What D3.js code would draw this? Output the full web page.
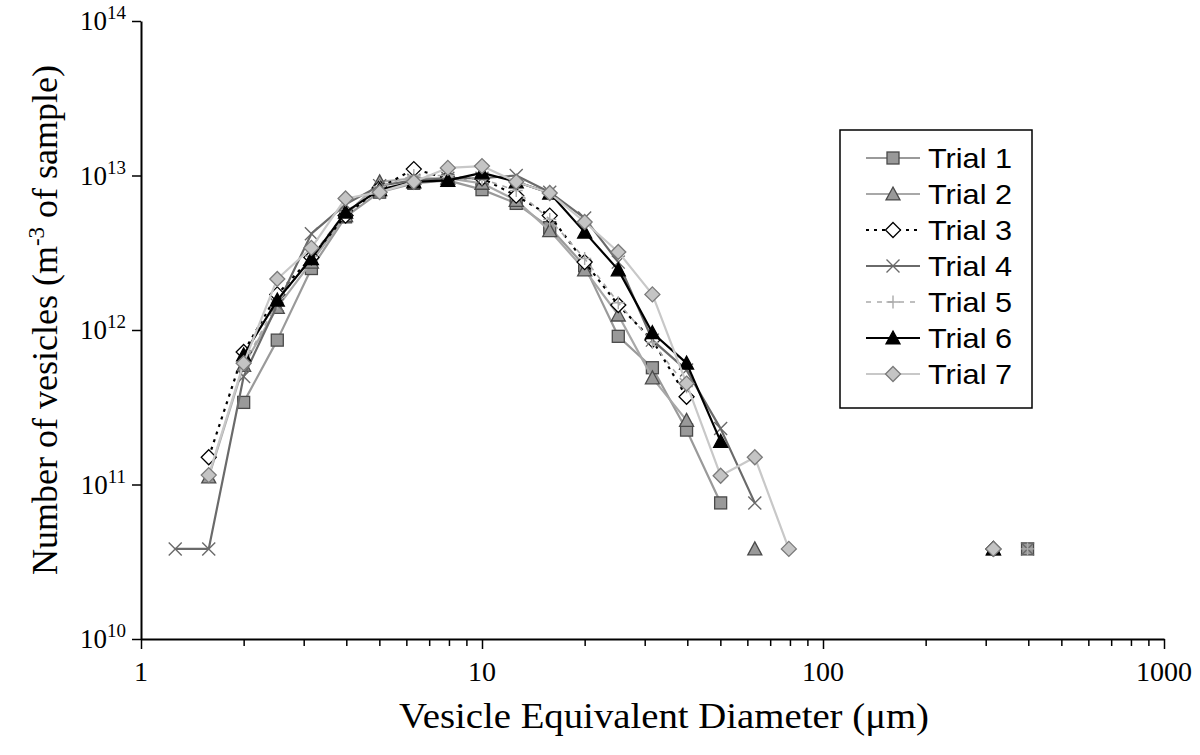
<!DOCTYPE html>
<html>
<head>
<meta charset="utf-8">
<script src="https://cdn.jsdelivr.net/npm/d3@7"></script>
<style>
  html, body { margin: 0; padding: 0; background: #fff; }
  svg { display: block; }
</style>
</head>
<body>
<svg id="chart" width="1200" height="755"></svg>
<script>
// ---- data ----
const diameters = [1.26, 1.58, 2.0, 2.51, 3.16, 3.98, 5.01, 6.31, 7.94, 10.0, 12.6, 15.8, 20.0, 25.1, 31.6, 39.8, 50.1, 63.1, 79.4];

const trial1 = [null, null, 3.4e11, 8.6e11, 2.5e12, 5.4e12, 7.8e12, 8.9e12, 9.3e12, 8.1e12, 6.6e12, 4.6e12, 2.6e12, 9.1e11, 5.7e11, 2.25e11, 7.6e10, null, null];
const trial2 = [null, 1.12e11, 5.9e11, 1.4e12, 2.75e12, 5.5e12, 9.1e12, 9.6e12, 9.6e12, 8.9e12, 6.9e12, 4.4e12, 2.45e12, 1.25e12, 4.9e11, 2.6e11, null, 3.83e10, null];
const trial3 = [null, 1.5e11, 7.2e11, 1.7e12, 2.95e12, 5.5e12, 8.3e12, 1.1e13, 9.6e12, 9.6e12, 7.4e12, 5.5e12, 2.75e12, 1.45e12, 8.6e11, 3.7e11, null, null, null];
const trial4 = [3.83e10, 3.83e10, 5.0e11, 1.45e12, 4.2e12, 6.5e12, 8.6e12, 9.3e12, 9.6e12, 9.6e12, 1.0e13, 7.8e12, 5.3e12, 2.75e12, 8.6e11, 5.5e11, 2.3e11, 7.6e10, null];
const trial5 = [null, null, 6.0e11, 1.5e12, 3.0e12, 5.8e12, 8.5e12, 1.0e13, 1.0e13, 9.5e12, 8.0e12, 5.2e12, 2.9e12, 1.5e12, 8.3e11, 4.3e11, null, null, null];
const trial6 = [null, null, 6.9e11, 1.56e12, 2.9e12, 5.8e12, 8.1e12, 9.1e12, 9.3e12, 1.04e13, 9.1e12, 7.7e12, 4.3e12, 2.45e12, 9.6e11, 6.1e11, 1.9e11, null, null];
const trial7 = [null, 1.15e11, 6.1e11, 2.14e12, 3.4e12, 7.1e12, 7.8e12, 9.1e12, 1.12e13, 1.15e13, 9.1e12, 7.7e12, 5.0e12, 3.2e12, 1.7e12, 4.5e11, 1.14e11, 1.5e11, 3.83e10];

// isolated large-vesicle counts (one vesicle per sample), per trial
const tailDiameters = [316, 398];
const tail316 = [null, 3.83e10, 3.83e10, null, null, 3.83e10, 3.83e10];
const tail398 = [3.83e10, null, null, 3.83e10, 3.83e10, null, null];

const seriesNames = ["Trial 1", "Trial 2", "Trial 3", "Trial 4", "Trial 5", "Trial 6", "Trial 7"];
const seriesValues = [trial1, trial2, trial3, trial4, trial5, trial6, trial7];

const xTickLabels = ["1", "10", "100", "1000"];
const xTickValues = [1, 10, 100, 1000];
const yTickValues = [1e10, 1e11, 1e12, 1e13, 1e14];
const yTickExponents = ["10", "11", "12", "13", "14"];

// ---- styles ----
const styles = [
  { line: "#9a9a9a", dash: null, width: 2.2, marker: "square", fill: "#999999", stroke: "#4a4a4a" },
  { line: "#a8a8a8", dash: null, width: 2.2, marker: "triangle", fill: "#999999", stroke: "#4a4a4a" },
  { line: "#000000", dash: "3,5", width: 2.2, marker: "diamond", fill: "#ffffff", stroke: "#000000" },
  { line: "#6a6a6a", dash: null, width: 2.2, marker: "x", fill: "none", stroke: "#6a6a6a" },
  { line: "#aaaaaa", dash: "5,6", width: 1.6, marker: "plus", fill: "none", stroke: "#aaaaaa" },
  { line: "#000000", dash: null, width: 2.2, marker: "triangle", fill: "#000000", stroke: "#000000" },
  { line: "#c8c8c8", dash: null, width: 2.2, marker: "diamond", fill: "#c4c4c4", stroke: "#7a7a7a" }
];

const serif = "Liberation Serif, Times New Roman, serif";
const svg = d3.select("#chart");
const x = d3.scaleLog().domain([1, 1000]).range([141, 1164]);
const y = d3.scaleLog().domain([1e10, 1e14]).range([639, 21]);

// ---- axes ----
const minorX = [];
[1, 10, 100].forEach(b => { for (let k = 2; k <= 9; k++) minorX.push(b * k); });

svg.append("g").attr("transform", "translate(0,639)")
  .call(d3.axisBottom(x).tickValues(minorX).tickSize(7).tickSizeOuter(0).tickFormat(""))
  .call(g => g.select(".domain").remove())
  .call(g => g.selectAll("line").attr("stroke", "#000").attr("stroke-width", 1.5));
svg.append("g").attr("transform", "translate(0,639)")
  .call(d3.axisBottom(x).tickValues(xTickValues).tickSize(10).tickSizeOuter(0).tickFormat(""))
  .call(g => g.select(".domain").attr("stroke", "#000").attr("stroke-width", 2))
  .call(g => g.selectAll("line").attr("stroke", "#000").attr("stroke-width", 1.5));

svg.append("g").attr("transform", "translate(141,0)")
  .call(d3.axisLeft(y).tickValues(yTickValues).tickSize(9).tickSizeOuter(0).tickFormat(""))
  .call(g => g.select(".domain").attr("stroke", "#000").attr("stroke-width", 2))
  .call(g => g.selectAll("line").attr("stroke", "#000").attr("stroke-width", 1.5));

// x tick labels
svg.append("g").selectAll("text").data(xTickValues).join("text")
  .attr("x", d => x(d)).attr("y", 681)
  .attr("text-anchor", "middle")
  .attr("font-family", serif)
  .attr("font-size", 28)
  .text((d, i) => xTickLabels[i]);

// y tick labels
const yl = svg.append("g").selectAll("text").data(yTickValues).join("text")
  .attr("x", 126).attr("y", d => y(d) + 9)
  .attr("text-anchor", "end")
  .attr("font-family", serif)
  .attr("font-size", 27);
yl.append("tspan").text("10");
yl.append("tspan").attr("dy", -11).attr("font-size", 19).text((d, i) => yTickExponents[i]);

// axis titles
svg.append("text")
  .attr("x", 664).attr("y", 728)
  .attr("text-anchor", "middle")
  .attr("font-family", serif)
  .attr("font-size", 36)
  .attr("textLength", 530)
  .attr("lengthAdjust", "spacingAndGlyphs")
  .text("Vesicle Equivalent Diameter (\u03bcm)");

const yt = svg.append("text")
  .attr("transform", "translate(57,320) rotate(-90)")
  .attr("text-anchor", "middle")
  .attr("font-family", serif)
  .attr("font-size", 36);
yt.append("tspan").text("Number of vesicles (m");
yt.append("tspan").attr("dy", -13).attr("font-size", 23).text("-3");
yt.append("tspan").attr("dy", 13).text(" of sample)");

// ---- markers ----
function drawMarker(g, type, cx, cy, st, scale) {
  const s = scale || 1;
  if (type === "square") {
    g.append("rect").attr("x", cx - 6 * s).attr("y", cy - 6 * s).attr("width", 12 * s).attr("height", 12 * s)
      .attr("fill", st.fill).attr("stroke", st.stroke).attr("stroke-width", 1.3);
  } else if (type === "triangle") {
    const h = 7 * s;
    g.append("path").attr("d", `M${cx},${cy - h}L${cx + h},${cy + h * 0.85}L${cx - h},${cy + h * 0.85}Z`)
      .attr("fill", st.fill).attr("stroke", st.stroke).attr("stroke-width", 1.3);
  } else if (type === "diamond") {
    const h = 7.5 * s;
    g.append("path").attr("d", `M${cx},${cy - h}L${cx + h},${cy}L${cx},${cy + h}L${cx - h},${cy}Z`)
      .attr("fill", st.fill).attr("stroke", st.stroke).attr("stroke-width", 1.3);
  } else if (type === "x") {
    const h = 6.5 * s;
    g.append("path").attr("d", `M${cx - h},${cy - h}L${cx + h},${cy + h}M${cx - h},${cy + h}L${cx + h},${cy - h}`)
      .attr("fill", "none").attr("stroke", st.stroke).attr("stroke-width", 1.4);
  } else if (type === "plus") {
    const h = 6.5 * s;
    g.append("path").attr("d", `M${cx - h},${cy}L${cx + h},${cy}M${cx},${cy - h}L${cx},${cy + h}`)
      .attr("fill", "none").attr("stroke", st.stroke).attr("stroke-width", 1.4);
  }
}

// ---- series ----
const line = d3.line()
  .defined(d => d.v != null)
  .x(d => x(d.d)).y(d => y(d.v));

const plot = svg.append("g");
seriesValues.forEach((vals, i) => {
  const st = styles[i];
  const pts = diameters.map((d, j) => ({ d: d, v: vals[j] }));
  const g = plot.append("g");
  g.append("path").datum(pts)
    .attr("d", line)
    .attr("fill", "none")
    .attr("stroke", st.line)
    .attr("stroke-width", st.width)
    .attr("stroke-linejoin", "round")
    .attr("stroke-dasharray", st.dash);
  pts.filter(p => p.v != null).forEach(p => drawMarker(g, st.marker, x(p.d), y(p.v), st));
  [tail316[i], tail398[i]].forEach((v, j) => {
    if (v != null) drawMarker(g, st.marker, x(tailDiameters[j]), y(v), st);
  });
});

// ---- legend ----
const lg = svg.append("g");
lg.append("rect").attr("x", 840).attr("y", 130).attr("width", 192).attr("height", 278)
  .attr("fill", "#fff").attr("stroke", "#000").attr("stroke-width", 1.5);
seriesNames.forEach((name, i) => {
  const cy = 158 + i * 36;
  const st = styles[i];
  lg.append("line").attr("x1", 866).attr("x2", 920).attr("y1", cy).attr("y2", cy)
    .attr("stroke", st.line).attr("stroke-width", st.width).attr("stroke-dasharray", st.dash);
  drawMarker(lg, st.marker, 893, cy, st);
  lg.append("text").attr("x", 928).attr("y", cy + 10)
    .attr("font-family", "Liberation Sans, Arial, sans-serif")
    .attr("font-size", 28)
    .attr("textLength", 84)
    .attr("lengthAdjust", "spacingAndGlyphs")
    .text(name);
});
</script>
</body>
</html>
